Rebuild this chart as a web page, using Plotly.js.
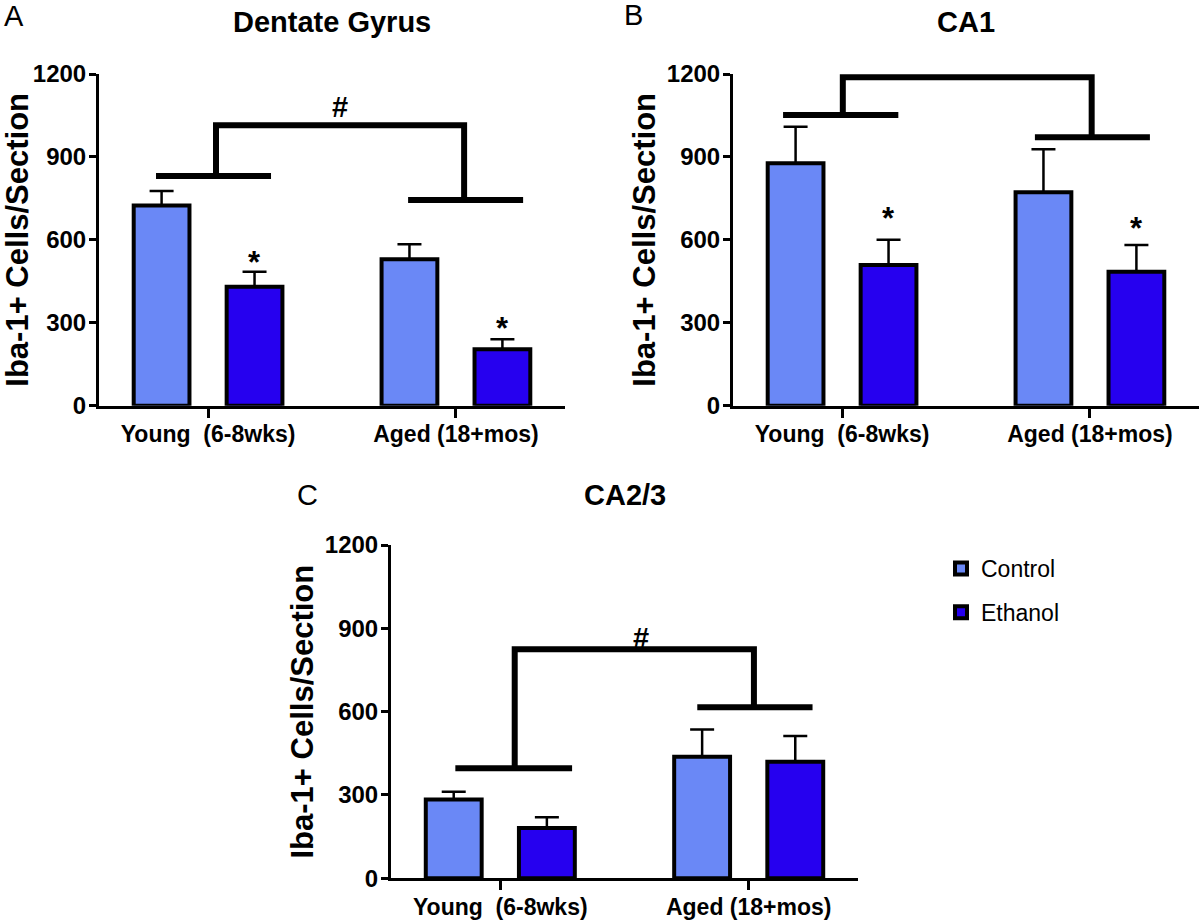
<!DOCTYPE html>
<html><head><meta charset="utf-8">
<script src="https://cdn.plot.ly/plotly-3.0.1.min.js"></script>
<style>html,body{margin:0;padding:0;background:#fff}#chart{width:1200px;height:923px}</style>
</head><body><div id="chart"></div>
<script>
// ---------------- data ----------------
const categories = ['Young\u00a0 (6-8wks)', 'Aged (18+mos)'];
const seriesNames = ['Control', 'Ethanol'];
const panelTitles = ['Dentate Gyrus', 'CA1', 'CA2/3'];
const panelLetters = ['A', 'B', 'C'];
const yTicks = [0, 300, 600, 900, 1200];
const yTitle = 'Iba-1+ Cells/Section';

const dgControl = [724, 530];
const dgControlErr = [53, 54];
const dgEthanol = [430, 204];
const dgEthanolErr = [55, 36];

const ca1Control = [877, 772];
const ca1ControlErr = [132, 156];
const ca1Ethanol = [509, 485];
const ca1EthanolErr = [91, 96];

const ca23Control = [284, 438];
const ca23ControlErr = [28, 98];
const ca23Ethanol = [181, 420];
const ca23EthanolErr = [39, 92];

// asterisks over the Ethanol bars: [category index, y value]
const dgStars = [[0, 541], [1, 301]];
const ca1Stars = [[0, 699], [1, 663]];
const ca23Stars = [];

// age-effect brackets (x in category units, y in cells/section)
const dgBracket = {left: [-0.21, 0.254], leftY: 831, right: [0.807, 1.271], rightY: 744, stems: [0.032, 1.033], topY: 1015, label: '#', labelX: 0.532, labelY: 1079};
const ca1Bracket = {left: [-0.238, 0.227], leftY: 1052, right: [0.778, 1.242], rightY: 971, stems: [0.003, 1.007], topY: 1188, label: '', labelX: 0.5, labelY: 1240};
const ca23Bracket = {left: [-0.181, 0.289], leftY: 396, right: [0.793, 1.257], rightY: 616, stems: [0.058, 1.021], topY: 825, label: '#', labelX: 0.565, labelY: 865};

// ---------------- style / layout ----------------
const W = 1200, H = 923;
const FONT = 'Arial, "Liberation Sans", Helvetica, sans-serif';
const colControl = '#6A88F6';
const colEthanol = '#2600EF';
const BARGAP = 0.25, BARGROUPGAP = 0.40;
const ethOffset = (1 - BARGAP) / 4;

// panel pixel boxes: [x0, x1, yTop, yBottom]
const boxes = [[99, 565, 74, 405.7], [733, 1199, 74, 405.7], [391, 858, 545, 878.3]];

const panels = [
  {c: dgControl, ce: dgControlErr, e: dgEthanol, ee: dgEthanolErr, stars: dgStars, br: dgBracket},
  {c: ca1Control, ce: ca1ControlErr, e: ca1Ethanol, ee: ca1EthanolErr, stars: ca1Stars, br: ca1Bracket},
  {c: ca23Control, ce: ca23ControlErr, e: ca23Ethanol, ee: ca23EthanolErr, stars: ca23Stars, br: ca23Bracket}
];

const traces = [];
const layout = {
  width: W, height: H,
  margin: {l: 0, r: 0, t: 0, b: 0},
  paper_bgcolor: 'white', plot_bgcolor: 'white',
  barmode: 'group', bargap: BARGAP, bargroupgap: BARGROUPGAP,
  font: {family: FONT, color: 'black'},
  showlegend: true,
  legend: {
    x: 941 / W, xanchor: 'left', y: 1 - 547 / H, yanchor: 'top',
    font: {family: FONT, size: 23, color: 'black'},
    bgcolor: 'rgba(0,0,0,0)', tracegroupgap: 11, traceorder: 'grouped'
  },
  shapes: [], annotations: []
};

panels.forEach((p, i) => {
  const n = i === 0 ? '' : String(i + 1);
  const xa = 'x' + n, ya = 'y' + n;
  const b = boxes[i];
  const errStyle = (arr) => ({type: 'data', symmetric: false, array: arr, arrayminus: arr.map(() => 0),
    color: 'black', thickness: 2.5, width: 12, visible: true});
  traces.push({
    type: 'bar', name: seriesNames[0], x: categories, y: p.c, xaxis: xa, yaxis: ya,
    marker: {color: colControl, line: {color: 'black', width: 4}},
    error_y: errStyle(p.ce), showlegend: i === 2, legendgroup: 'g0', hoverinfo: 'y'
  });
  traces.push({
    type: 'bar', name: seriesNames[1], x: categories, y: p.e, xaxis: xa, yaxis: ya,
    marker: {color: colEthanol, line: {color: 'black', width: 4}},
    error_y: errStyle(p.ee), showlegend: i === 2, legendgroup: 'g1', hoverinfo: 'y'
  });

  layout['xaxis' + n] = {
    domain: [b[0] / W, b[1] / W], anchor: ya, type: 'category',
    range: [-0.44, 1.44], showgrid: false, zeroline: false,
    showline: true, linecolor: 'black', linewidth: 3,
    ticks: 'outside', ticklen: 9, tickwidth: 3, tickcolor: 'black',
    tickfont: {family: FONT, size: 23, color: 'black', weight: 'bold'},
    ticklabelstandoff: -3, fixedrange: true
  };
  layout['yaxis' + n] = {
    domain: [1 - b[3] / H, 1 - b[2] / H], anchor: xa,
    range: [0, 1200], tickvals: yTicks, ticktext: yTicks.map(String),
    showgrid: false, zeroline: false,
    showline: true, linecolor: 'black', linewidth: 3,
    ticks: 'outside', ticklen: 7, tickwidth: 3, tickcolor: 'black',
    tickfont: {family: FONT, size: 24, color: 'black', weight: 'bold'},
    ticklabelstandoff: -2,
    title: {text: yTitle, font: {family: FONT, size: 31, color: 'black', weight: 'bold'}, standoff: 2},
    fixedrange: true
  };

  // bracket
  const br = p.br;
  const lineStyle = {color: 'black', width: 6};
  layout.shapes.push({type: 'line', xref: xa, yref: ya, x0: br.left[0], x1: br.left[1], y0: br.leftY, y1: br.leftY, line: lineStyle});
  layout.shapes.push({type: 'line', xref: xa, yref: ya, x0: br.right[0], x1: br.right[1], y0: br.rightY, y1: br.rightY, line: lineStyle});
  layout.shapes.push({type: 'path', xref: xa, yref: ya,
    path: 'M' + br.stems[0] + ',' + br.leftY + ' L' + br.stems[0] + ',' + br.topY + ' L' + br.stems[1] + ',' + br.topY + ' L' + br.stems[1] + ',' + br.rightY,
    line: lineStyle});
  if (br.label) {
    layout.annotations.push({xref: xa, yref: ya, x: br.labelX, y: br.labelY, text: br.label, showarrow: false,
      xanchor: 'center', yanchor: 'middle', font: {family: FONT, size: 29, color: 'black', weight: 'bold'}});
  }
  p.stars.forEach(s => {
    layout.annotations.push({xref: xa, yref: ya, x: s[0] + ethOffset, y: s[1], text: '*', showarrow: false,
      xanchor: 'center', yanchor: 'middle', yshift: -6, font: {family: FONT, size: 31, color: 'black', weight: 'bold'}});
  });

  // panel title
  layout.annotations.push({xref: 'paper', yref: 'paper', x: ((b[0] + b[1]) / 2) / W, y: 1 - (i < 2 ? 22 : 495) / H,
    text: panelTitles[i], showarrow: false, xanchor: 'center', yanchor: 'middle',
    font: {family: FONT, size: 29, color: 'black', weight: 'bold'}});
  // panel letter
  const letterPos = [[14, 16], [633, 15], [307, 495]][i];
  layout.annotations.push({xref: 'paper', yref: 'paper', x: letterPos[0] / W, y: 1 - letterPos[1] / H,
    text: panelLetters[i], showarrow: false, xanchor: 'center', yanchor: 'middle',
    font: {family: FONT, size: 29, color: 'black'}});
});

Plotly.newPlot('chart', traces, layout, {displayModeBar: false, staticPlot: true});
</script>
</body></html>
